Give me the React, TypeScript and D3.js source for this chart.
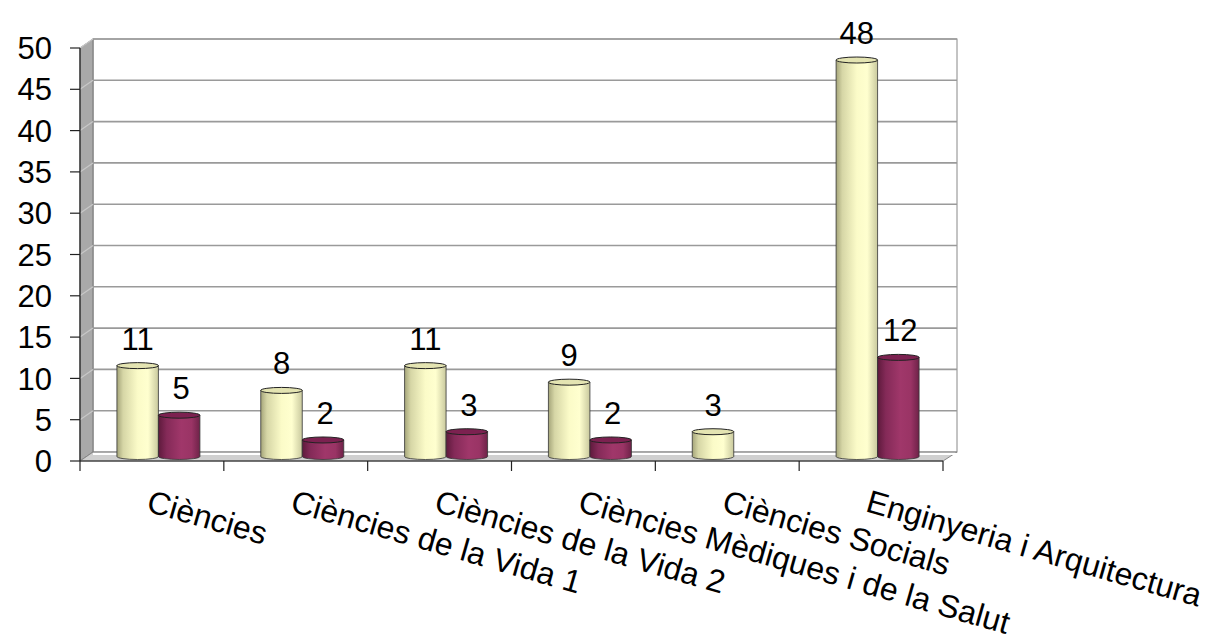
import * as d3 from "d3";

// chart data
const categories = [
  "Ciències",
  "Ciències de la Vida 1",
  "Ciències de la Vida 2",
  "Ciències Mèdiques i de la Salut",
  "Ciències Socials",
  "Enginyeria i Arquitectura",
];
const seriesA = [11, 8, 11, 9, 3, 48];
const seriesB: (number | null)[] = [5, 2, 3, 2, null, 12];
const yTicks = [0, 5, 10, 15, 20, 25, 30, 35, 40, 45, 50];

const W = 1222;
const H = 643;
const left = 80;
const right = 943;
const top = 48;
const bottom = 461;
const dx = 13; // 3d depth offset
const dy = -9;

const FONT = "'Liberation Sans', Arial, sans-serif";

function Cylinder({
  x,
  w,
  yTop,
  yBot,
  grad,
  topFill,
}: {
  x: number;
  w: number;
  yTop: number;
  yBot: number;
  grad: string;
  topFill: string;
}) {
  const rx = w / 2;
  const ry = 3;
  const cx = x + rx;
  const body = `M${x},${yTop} L${x},${yBot} A${rx},${ry} 0 0 0 ${x + w},${yBot} L${x + w},${yTop} Z`;
  return (
    <g>
      <path d={body} fill={`url(#${grad})`} stroke="#333" strokeWidth={0.8} />
      <ellipse cx={cx} cy={yTop} rx={rx} ry={ry} fill={topFill} stroke="#222" strokeWidth={1} />
    </g>
  );
}

export default function App() {
  const y = d3.scaleLinear().domain([0, 50]).range([bottom, top]);
  const x = d3
    .scaleBand<string>()
    .domain(categories)
    .range([left, right])
    .paddingInner(0)
    .paddingOuter(0);
  const bw = x.bandwidth();
  const barW = 41.5;
  const mx = dx / 2;
  const my = dy / 2;

  return (
    <svg width={W} height={H} style={{ position: "absolute", left: 0, top: 0, background: "#fff" }}>
      <defs>
        <linearGradient id="gy" x1="0" x2="1" y1="0" y2="0">
          <stop offset="0" stopColor="#a5a57a" />
          <stop offset="0.15" stopColor="#d6d6a6" />
          <stop offset="0.5" stopColor="#fbfbc8" />
          <stop offset="0.75" stopColor="#ffffcf" />
          <stop offset="1" stopColor="#c9c99e" />
        </linearGradient>
        <linearGradient id="gp" x1="0" x2="1" y1="0" y2="0">
          <stop offset="0" stopColor="#5e1a3c" />
          <stop offset="0.2" stopColor="#842a58" />
          <stop offset="0.55" stopColor="#a0376a" />
          <stop offset="0.8" stopColor="#9a3465" />
          <stop offset="1" stopColor="#6e2248" />
        </linearGradient>
      </defs>

      {/* back wall */}
      <rect x={left + dx} y={top + dy} width={right - left + 1} height={bottom - top} fill="#fff" stroke="#888" strokeWidth={1} />
      {/* left wall */}
      <path
        d={`M${left},${top} L${left + dx},${top + dy} L${left + dx},${bottom + dy} L${left},${bottom} Z`}
        fill="#a9a9a9"
        stroke="#777"
        strokeWidth={1}
      />
      {/* floor */}
      <path
        d={`M${left},${bottom} L${left + dx},${bottom + dy} L${right + dx + 1},${bottom + dy} L${right},${bottom} Z`}
        fill="#d0d0d0"
        stroke="#888"
        strokeWidth={1}
      />
      <path
        d={`M${left + dx},${bottom + dy} L${right + dx + 1},${bottom + dy}`}
        stroke="#fff"
        strokeWidth={2}
        transform="translate(0,2)"
      />

      {/* grid lines */}
      {yTicks.map((t) =>
        t === 0 ? null : (
          <g key={t}>
            <line x1={left + dx} x2={right + dx + 1} y1={y(t) + dy} y2={y(t) + dy} stroke="#9a9a9a" strokeWidth={1.6} />
            <line x1={left} x2={left + dx} y1={y(t)} y2={y(t) + dy} stroke="#c8c8c8" strokeWidth={1.2} />
          </g>
        )
      )}

      {/* y axis */}
      <line x1={left} x2={left} y1={top} y2={bottom} stroke="#222" strokeWidth={1.2} />
      {yTicks.map((t) => (
        <g key={t}>
          <line x1={left - 10} x2={left} y1={y(t)} y2={y(t)} stroke="#222" strokeWidth={1.2} />
          <text x={52} y={y(t)} dy="0.36em" textAnchor="end" fontFamily={FONT} fontSize={31} fill="#000">
            {t}
          </text>
        </g>
      ))}

      {/* x axis */}
      <line x1={left} x2={right} y1={bottom} y2={bottom} stroke="#222" strokeWidth={1.2} />
      {categories.map((c) => (
        <line key={c} x1={x(c)!} x2={x(c)!} y1={bottom} y2={bottom + 10} stroke="#222" strokeWidth={1.2} />
      ))}
      <line x1={right} x2={right} y1={bottom} y2={bottom + 10} stroke="#222" strokeWidth={1.2} />

      {/* bars */}
      {categories.map((c, i) => {
        const cx = x(c)! + bw / 2 + mx;
        const a = seriesA[i];
        const b = seriesB[i];
        const xa = cx - barW;
        const xb = cx;
        return (
          <g key={c}>
            <Cylinder x={xa} w={barW} yTop={y(a) + my} yBot={y(0) + my} grad="gy" topFill="#e4e4b2" />
            {b != null && (
              <Cylinder x={xb} w={barW} yTop={y(b) + my} yBot={y(0) + my} grad="gp" topFill="#7c2150" />
            )}
            <text x={xa + barW / 2} y={y(a) + my - 16} textAnchor="middle" fontFamily={FONT} fontSize={31} fill="#000">
              {a}
            </text>
            {b != null && (
              <text x={xb + barW / 2 + 2} y={y(b) + my - 16} textAnchor="middle" fontFamily={FONT} fontSize={31} fill="#000">
                {b}
              </text>
            )}
          </g>
        );
      })}

      {/* category labels */}
      {categories.map((c) => {
        const lx = x(c)! + bw / 2;
        const ly = 488;
        return (
          <text
            key={c}
            x={lx}
            y={ly}
            dy="0.75em"
            textAnchor="start"
            fontFamily={FONT}
            fontSize={32}
            fill="#000"
            transform={`rotate(16, ${lx}, ${ly})`}
          >
            {c}
          </text>
        );
      })}
    </svg>
  );
}
